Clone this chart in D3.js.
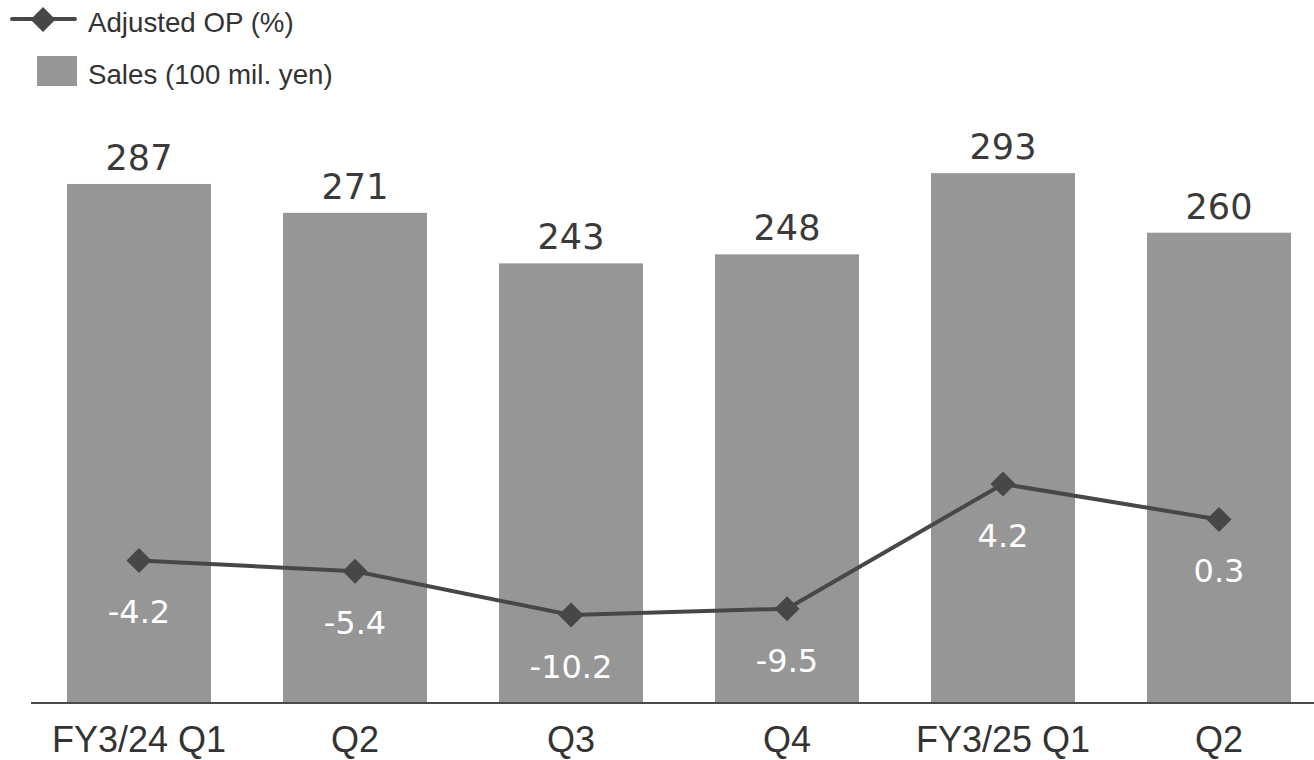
<!DOCTYPE html>
<html>
<head>
<meta charset="utf-8">
<script src="https://cdn.jsdelivr.net/npm/d3@7"></script>
<style>
  html, body { margin: 0; padding: 0; background: #fff; }
  svg { display: block; }
</style>
</head>
<body>
<svg id="chart" width="1314" height="760"></svg>
<script>
const categories = ["FY3/24 Q1", "Q2", "Q3", "Q4", "FY3/25 Q1", "Q2"];
const sales = [287, 271, 243, 248, 293, 260];
const adjustedOP = [-4.2, -5.4, -10.2, -9.5, 4.2, 0.3];
const salesLabels = ["287", "271", "243", "248", "293", "260"];
const opLabels = ["-4.2", "-5.4", "-10.2", "-9.5", "4.2", "0.3"];
const legendNames = ["Adjusted OP (%)", "Sales (100 mil. yen)"];

const svg = d3.select("#chart");
const baseY = 702;

const x = d3.scaleBand()
  .domain(d3.range(categories.length))
  .range([31, 1327])
  .paddingInner(1/3)
  .paddingOuter(1/6);

const ySales = d3.scaleLinear().domain([0, 350]).range([baseY, baseY - 350 * 1.805]);
const yOP = d3.scaleLinear().domain([-20, 10]).range([522.2 + 20 * 9.1, 522.2 - 10 * 9.1]);

const barColor = "#969696";
const lineColor = "#474747";
const textColor = "#333333";

// bars
svg.append("g").selectAll("rect")
  .data(sales)
  .join("rect")
  .attr("x", (d, i) => x(i))
  .attr("y", d => ySales(d))
  .attr("width", x.bandwidth())
  .attr("height", d => baseY - ySales(d))
  .attr("fill", barColor);

// bar labels
svg.append("g").selectAll("text")
  .data(sales)
  .join("text")
  .attr("x", (d, i) => x(i) + x.bandwidth() / 2)
  .attr("y", d => ySales(d) - 14)
  .attr("text-anchor", "middle")
  .attr("font-family", "'DejaVu Sans', Verdana, sans-serif")
  .attr("font-size", 35)
  .attr("fill", "#3a3a3a")
  .text((d, i) => salesLabels[i]);

// x axis
const xAxis = d3.axisBottom(x).tickSize(0).tickFormat(i => categories[i]);
const gx = svg.append("g").attr("transform", `translate(0,${baseY + 1})`).call(xAxis);
gx.select(".domain").attr("d", "M31,0H1314").attr("stroke", "#4a4a4a").attr("stroke-width", 2);
gx.selectAll("text")
  .attr("y", 49)
  .attr("dy", 0)
  .attr("font-family", "'Liberation Sans', Arial, sans-serif")
  .attr("font-size", 36)
  .attr("fill", textColor);

// line
const line = d3.line()
  .x((d, i) => x(i) + x.bandwidth() / 2)
  .y(d => yOP(d));

svg.append("path")
  .datum(adjustedOP)
  .attr("d", line)
  .attr("fill", "none")
  .attr("stroke", lineColor)
  .attr("stroke-width", 4);

const dSide = 17.7;
svg.append("g").selectAll("rect")
  .data(adjustedOP)
  .join("rect")
  .attr("x", -dSide / 2)
  .attr("y", -dSide / 2)
  .attr("width", dSide)
  .attr("height", dSide)
  .attr("fill", lineColor)
  .attr("transform", (d, i) => `translate(${x(i) + x.bandwidth() / 2},${yOP(d)}) rotate(45)`);

svg.append("g").selectAll("text")
  .data(adjustedOP)
  .join("text")
  .attr("x", (d, i) => x(i) + x.bandwidth() / 2)
  .attr("y", d => yOP(d) + 63)
  .attr("text-anchor", "middle")
  .attr("font-family", "'DejaVu Sans', Verdana, sans-serif")
  .attr("font-size", 32)
  .attr("fill", "#ffffff")
  .text((d, i) => opLabels[i]);

// legend
const lg = svg.append("g");
lg.append("line").attr("x1", 12).attr("x2", 75).attr("y1", 19).attr("y2", 19)
  .attr("stroke", lineColor).attr("stroke-width", 4).attr("stroke-linecap", "round");
lg.append("rect").attr("x", -dSide / 2).attr("y", -dSide / 2).attr("width", dSide).attr("height", dSide)
  .attr("fill", lineColor).attr("transform", "translate(43,19.5) rotate(45)");
lg.append("text").attr("x", 88).attr("y", 31.5)
  .attr("font-family", "'Liberation Sans', Arial, sans-serif").attr("font-size", 27.7)
  .attr("fill", textColor).text(legendNames[0]);
lg.append("rect").attr("x", 37).attr("y", 56).attr("width", 40).attr("height", 30).attr("fill", barColor);
lg.append("text").attr("x", 88).attr("y", 84)
  .attr("font-family", "'Liberation Sans', Arial, sans-serif").attr("font-size", 27.7)
  .attr("fill", textColor).text(legendNames[1]);
</script>
</body>
</html>
